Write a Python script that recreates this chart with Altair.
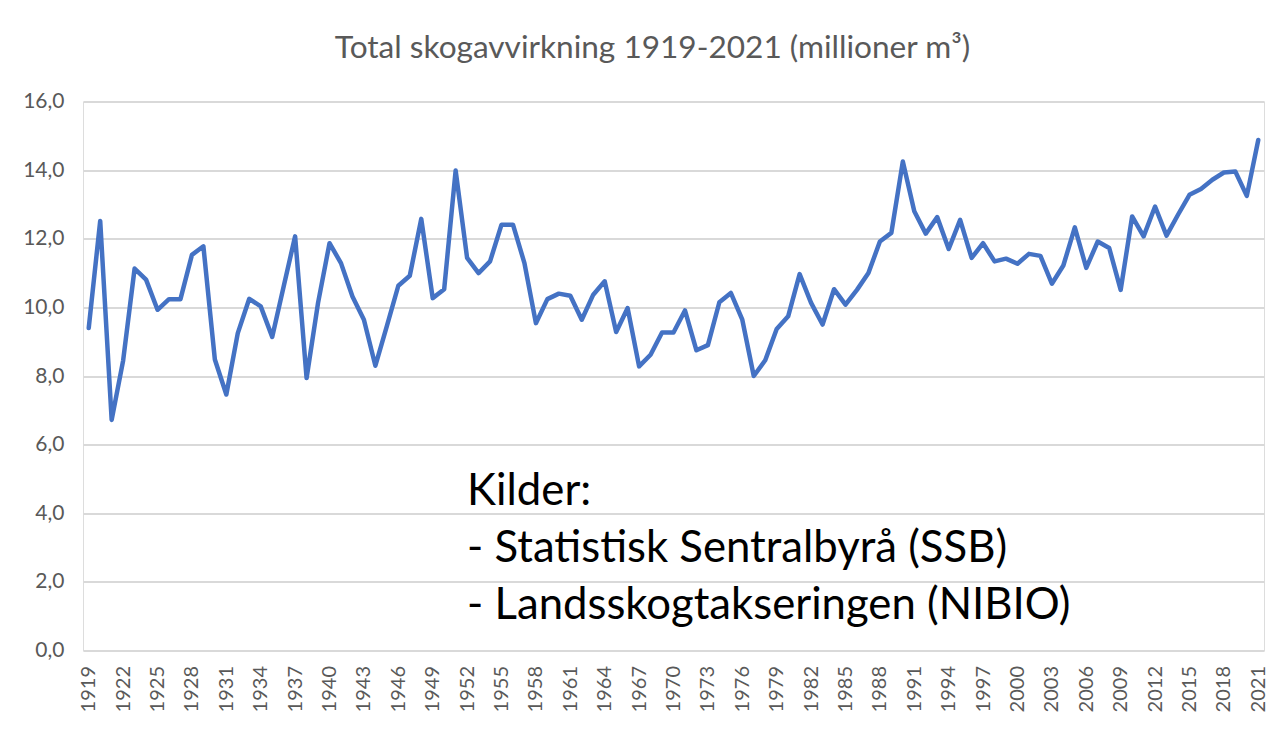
import altair as alt
import pandas as pd

years = list(range(1919, 2022))
values = [
    9.40, 12.52, 6.72, 8.45, 11.13, 10.81, 9.93, 10.24, 10.24, 11.53,   # 1919-1928
    11.78, 8.48, 7.46, 9.25, 10.25, 10.03, 9.14, 10.61, 12.07, 7.94,    # 1929-1938
    10.13, 11.87, 11.29, 10.32, 9.64, 8.30, 9.45, 10.63, 10.92, 12.58,  # 1939-1948
    10.27, 10.53, 13.99, 11.44, 11.00, 11.34, 12.41, 12.41, 11.29, 9.54,  # 1949-1958
    10.24, 10.40, 10.34, 9.64, 10.37, 10.76, 9.28, 9.98, 8.28, 8.62,   # 1959-1968
    9.27, 9.27, 9.91, 8.75, 8.90, 10.15, 10.42, 9.64, 8.00, 8.46,      # 1969-1978
    9.37, 9.74, 10.97, 10.13, 9.50, 10.53, 10.08, 10.51, 11.00, 11.92,  # 1979-1988
    12.17, 14.25, 12.80, 12.15, 12.63, 11.70, 12.55, 11.44, 11.87, 11.34,  # 1989-1998
    11.42, 11.27, 11.56, 11.50, 10.69, 11.22, 12.33, 11.15, 11.92, 11.73,  # 1999-2008
    10.51, 12.65, 12.07, 12.94, 12.09, 12.70, 13.28, 13.45, 13.72, 13.93,  # 2009-2018
    13.96, 13.25, 14.88,                                                # 2019-2021
]
x_tick_years = list(range(1919, 2022, 3))
y_ticks = [0, 2, 4, 6, 8, 10, 12, 14, 16]
title_text = "Total skogavvirkning 1919-2021 (millioner m³)"
source_lines = ["Kilder:", "- Statistisk Sentralbyrå (SSB)", "- Landsskogtakseringen (NIBIO)"]

# anchor of the source note, in data units (year, value)
note_year = 1952
note_value = 4.24

df = pd.DataFrame({"year": years, "value": values})
note_df = pd.DataFrame({"year": [note_year], "value": [note_value], "t": [source_lines]})

label_color = "#595959"
font = "Lato"

x_enc = alt.X(
    "year:O",
    scale=alt.Scale(type="point", padding=0.5),
    sort=None,
    axis=alt.Axis(
        values=x_tick_years,
        labelAngle=-90,
        labelFont=font,
        labelFontSize=20,
        labelColor=label_color,
        labelPadding=15,
        labelOverlap=False,
        labelBound=False,
        ticks=False,
        domain=False,
        grid=False,
        title=None,
    ),
)
y_enc = alt.Y(
    "value:Q",
    scale=alt.Scale(domain=[0, 16], nice=False),
    axis=alt.Axis(
        values=y_ticks,
        labelExpr="replace(format(datum.value, '.1f'), '.', ',')",
        labelFont=font,
        labelFontSize=21,
        labelColor=label_color,
        labelPadding=19,
        ticks=False,
        domain=False,
        grid=True,
        gridColor="#d9d9d9",
        gridWidth=2,
        title=None,
    ),
)

line = alt.Chart(df).mark_line(
    color="#4472C4", strokeWidth=4.5, strokeJoin="round", strokeCap="round"
).encode(x=x_enc, y=y_enc)

note = alt.Chart(note_df).mark_text(
    align="left",
    baseline="alphabetic",
    font=font,
    fontSize=43.7,
    color="#000000",
    lineHeight=57,
).encode(
    x=alt.X("year:O"),
    y=alt.Y("value:Q"),
    text="t",
)

chart = (
    alt.layer(line, note)
    .properties(
        width=1181,
        height=549,
        autosize=alt.AutoSizeParams(type="none"),
        padding={"left": 75, "top": 93.5, "right": 6, "bottom": 68},
        title=alt.TitleParams(
            text=title_text,
            font=font,
            fontSize=31.6,
            fontWeight="normal",
            color=label_color,
            anchor="middle",
            baseline="alphabetic",
            offset=1,
            dx=-21,
        ),
    )
    .configure_view(stroke=None)
    .configure(background="white")
)

chart.save("out.html", embed_options={"renderer": "svg", "actions": False})
